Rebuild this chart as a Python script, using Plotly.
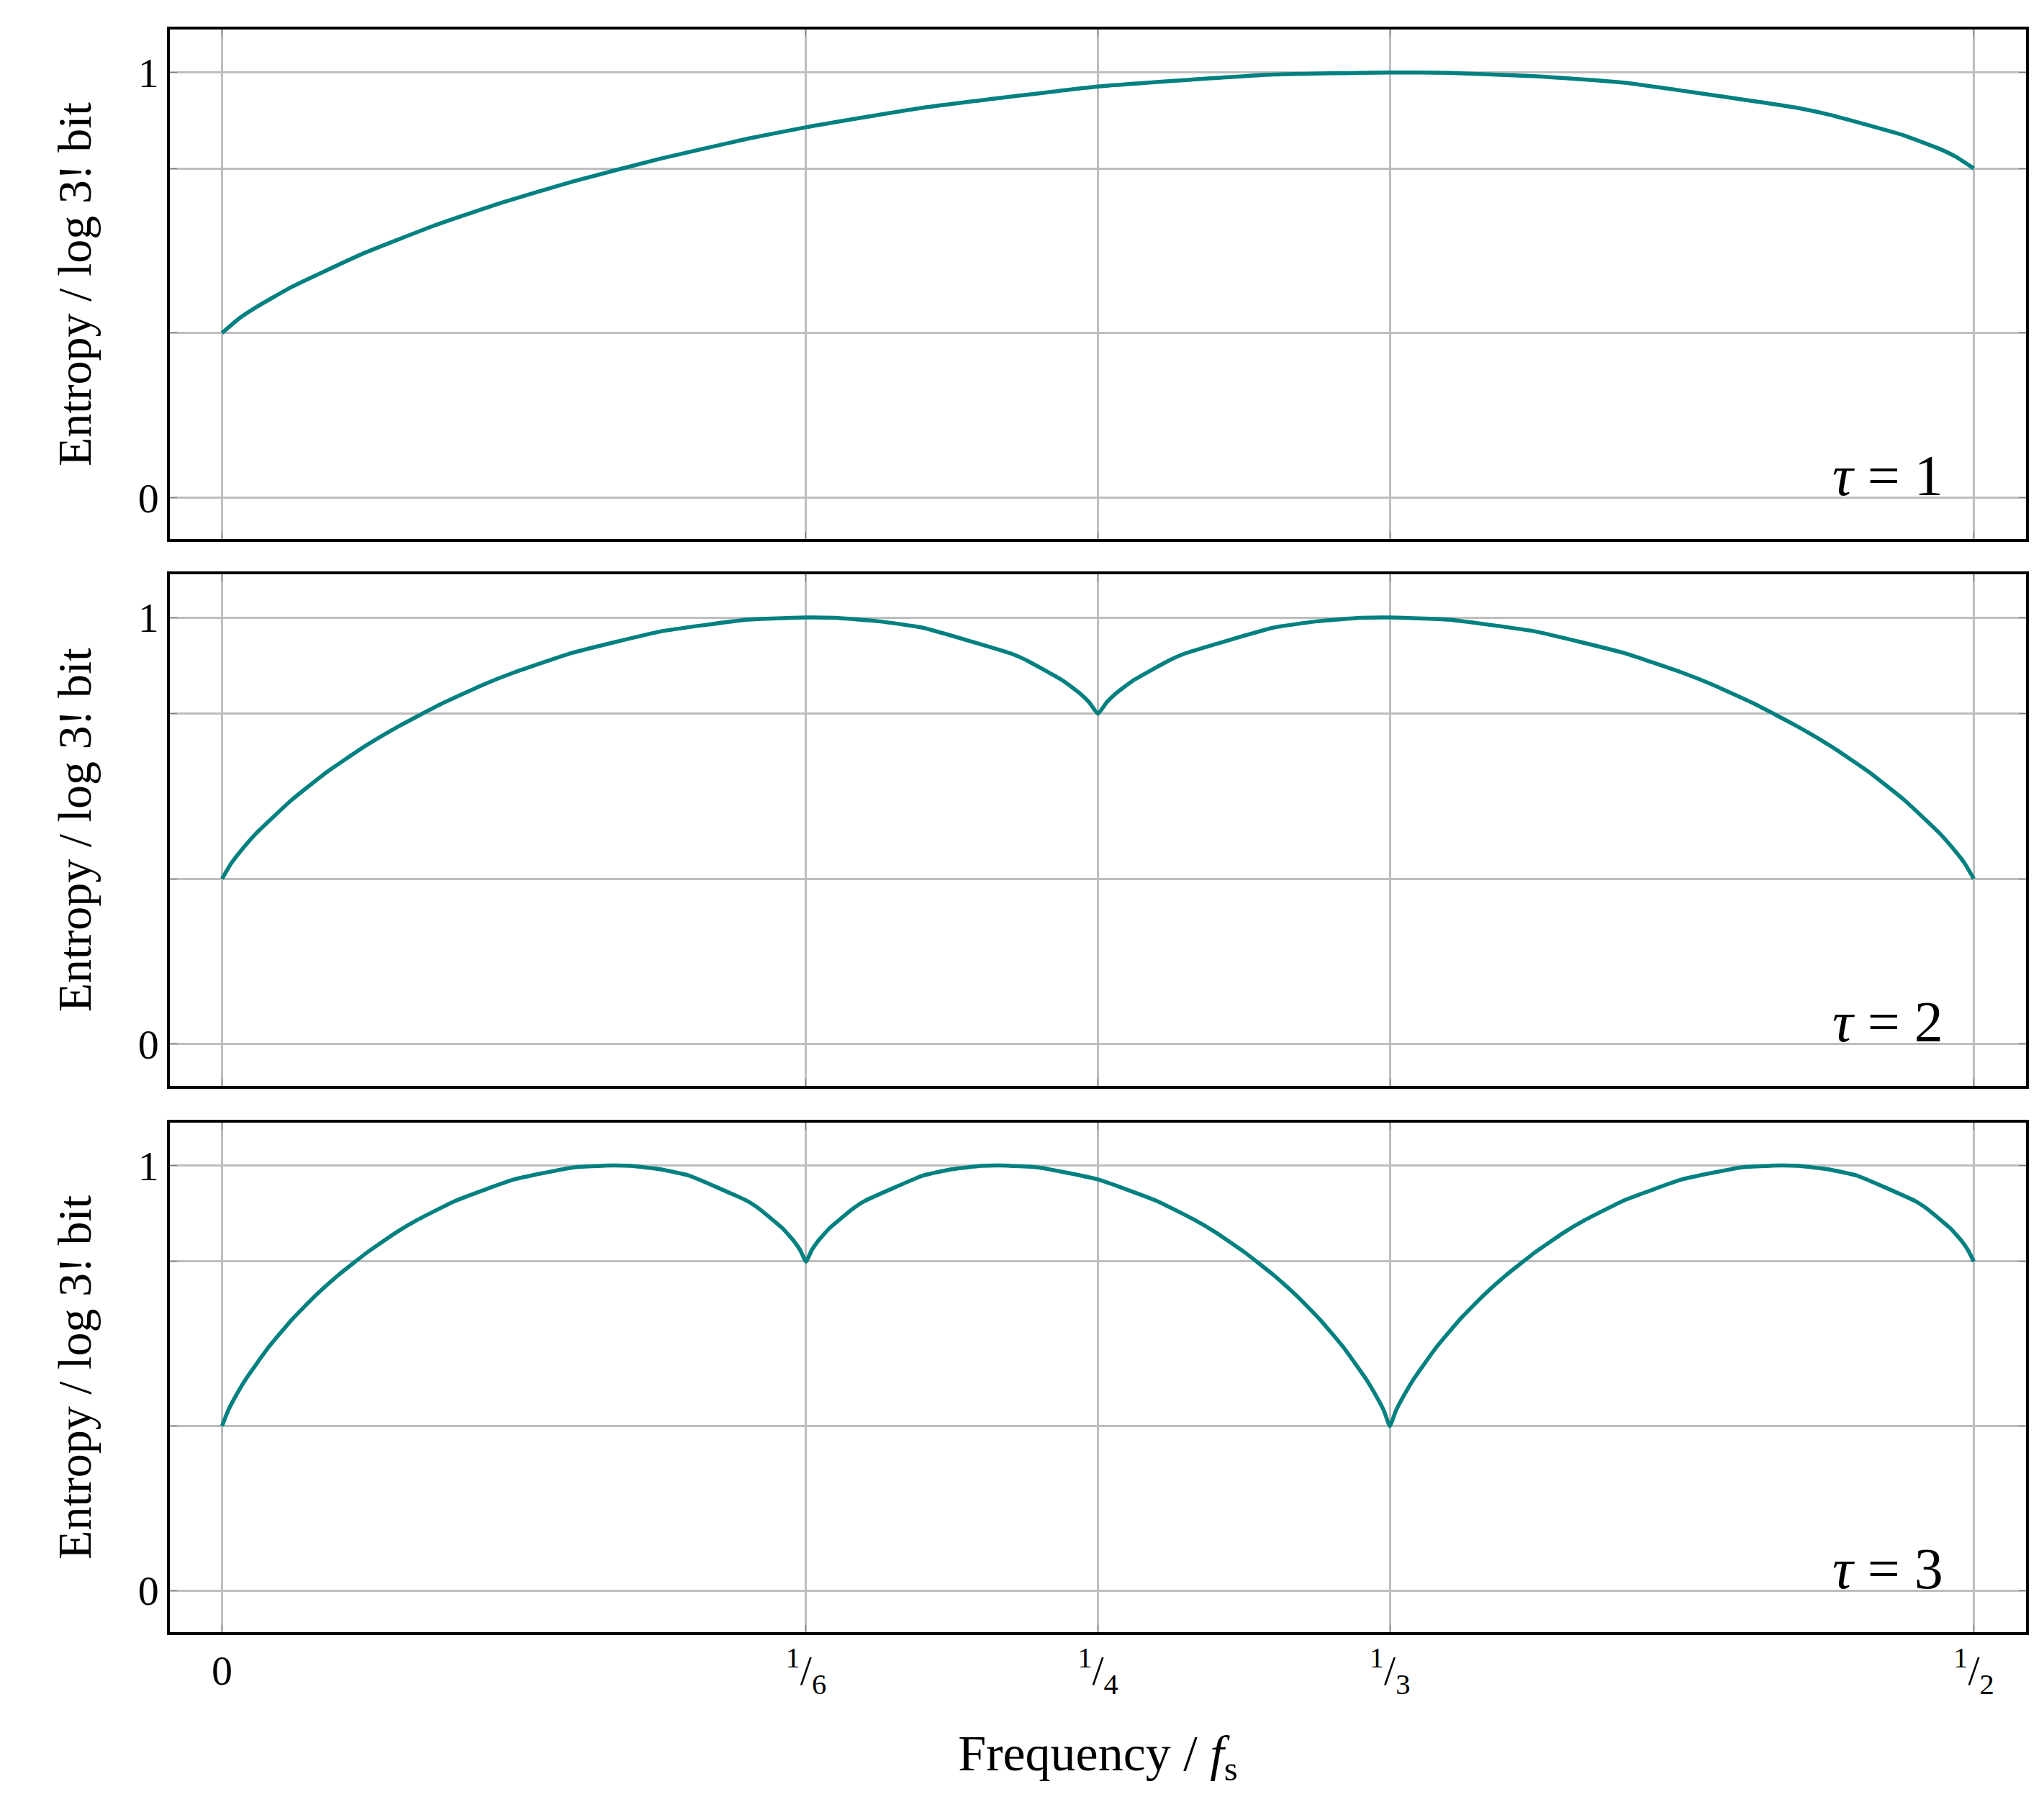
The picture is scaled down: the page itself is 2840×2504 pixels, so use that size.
import plotly.graph_objects as go
from plotly.subplots import make_subplots

# tau = 1
x1 = [0, .005, .01, .02, .04, .06, .08, .1, .125, .15, .16667, .2, .25, .3, .33333,
      .35, .375, .4, .45, .46, .48, .49, .495, .5]
y1 = [.387, .422, .449, .496, .573, .638, .694, .743, .797, .844, .871, .917, .967, .995, 1,
      .999, .991, .976, .916, .898, .852, .821, .801, .774]

# tau = 2
x2 = [0, .0025, .005, .01, .02, .03, .04, .05, .0625, .075, .08333, .1, .125, .15, .16667,
      .175, .1875, .2, .225, .23, .24, .245, .2475, .25,
      .2525, .255, .26, .27, .275, .3, .3125, .325, .33333, .35, .375, .4, .41667, .425,
      .4375, .45, .46, .47, .48, .49, .495, .4975, .5]
y2 = [.387, .422, .449, .496, .573, .638, .694, .743, .797, .844, .871, .917, .967, .995, 1,
      .999, .991, .976, .916, .898, .852, .821, .801, .774,
      .801, .821, .852, .898, .916, .976, .991, .999, 1, .995, .967, .917, .871, .844,
      .797, .743, .694, .638, .573, .496, .449, .422, .387]

# tau = 3
x3 = [0, .00167, .00333, .00667, .01333, .02, .02667, .03333, .04167, .05, .05556, .06667,
      .08333, .1, .11111, .11667, .125, .13333, .15, .15333, .16, .16333, .165, .16667,
      .16833, .17, .17333, .18, .18333, .2, .20833, .21667, .22222, .23333, .25, .26667,
      .27778, .28333, .29167, .3, .30667, .31333, .32, .32667, .33, .33167, .33333,
      .335, .33667, .34, .34667, .35333, .36, .36667, .375, .38333, .38889, .4, .41667,
      .43333, .44444, .45, .45833, .46667, .48333, .48667, .49333, .49667, .49833, .5]
y3 = [.387, .422, .449, .496, .573, .638, .694, .743, .797, .844, .871, .917, .967, .995, 1,
      .999, .991, .976, .916, .898, .852, .821, .801, .774,
      .801, .821, .852, .898, .916, .976, .991, .999, 1, .995, .967, .917, .871, .844,
      .797, .743, .694, .638, .573, .496, .449, .422, .387,
      .422, .449, .496, .573, .638, .694, .743, .797, .844, .871, .917, .967, .995, 1,
      .999, .991, .976, .916, .898, .852, .821, .801, .774]

taus = ["1", "2", "3"]
xtickvals = [0, 1/6, 1/4, 1/3, 1/2]
xticktext = ["0", "<sup>1</sup>/<sub>6</sub>", "<sup>1</sup>/<sub>4</sub>",
             "<sup>1</sup>/<sub>3</sub>", "<sup>1</sup>/<sub>2</sub>"]
ytickvals = [0, 0.387, 0.774, 1]
yticktext = ["0", "", "", "1"]

font = "Liberation Serif, DejaVu Serif, serif"
teal = "rgb(0,128,128)"

fig = make_subplots(rows=3, cols=1, shared_xaxes=True)
domains = [[0.682, 1.0], [0.341, 0.66], [0.0, 0.318]]
for i, (xs, ys) in enumerate([(x1, y1), (x2, y2), (x3, y3)]):
    r = i + 1
    fig.add_trace(go.Scatter(x=xs, y=ys, mode="lines",
                             line=dict(color=teal, width=5.5, shape="spline", smoothing=0.4),
                             showlegend=False),
                  row=r, col=1)
    fig.update_yaxes(domain=domains[i], range=[-0.098, 1.101], tickvals=ytickvals,
                     ticktext=yticktext, showgrid=True, gridcolor="rgb(190,190,190)",
                     gridwidth=2.5, zeroline=False, showline=True, linecolor="black",
                     linewidth=3.5, mirror="ticks", ticks="inside", ticklen=10,
                     tickcolor="rgb(120,120,120)",
                     title=dict(text="Entropy / log 3! bit", standoff=45,
                                font=dict(size=66)), row=r, col=1)
    fig.update_xaxes(range=[-0.0149, 0.5149], tickvals=xtickvals, ticktext=xticktext,
                     showgrid=True, gridcolor="rgb(190,190,190)", gridwidth=2.5,
                     zeroline=False, showline=True, linecolor="black", linewidth=3.5,
                     mirror="ticks", ticks="inside", ticklen=10,
                     tickcolor="rgb(120,120,120)", showticklabels=(r == 3), row=r, col=1)
    yref = "y domain" if r == 1 else "y%d domain" % r
    fig.add_annotation(x=0.956, y=0.06, xref="x domain", yref=yref, showarrow=False,
                       xanchor="right", yanchor="bottom",
                       text="<i>τ</i> = " + taus[i], font=dict(size=80))

fig.update_xaxes(title=dict(text="Frequency / <i>f</i><sub>s</sub>", standoff=50,
                            font=dict(size=70)), row=3, col=1)

fig.update_layout(width=2840, height=2504, plot_bgcolor="white", paper_bgcolor="white",
                  font=dict(family=font, size=58, color="black"),
                  margin=dict(l=228, r=33, t=33, b=244))
fig.write_html("out.html")
